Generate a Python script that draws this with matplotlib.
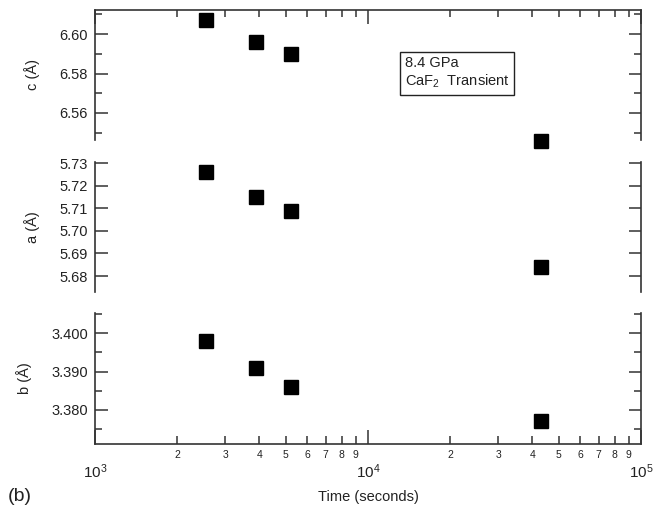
import matplotlib
matplotlib.use("Agg")
import matplotlib.pyplot as plt
from matplotlib.ticker import LogLocator, FixedLocator, MultipleLocator, FormatStrFormatter, FuncFormatter, NullFormatter

plt.rcParams['font.family'] = ['Liberation Sans', 'DejaVu Sans']
plt.rcParams['mathtext.fontset'] = 'custom'
plt.rcParams['mathtext.rm'] = 'Liberation Sans'
plt.rcParams['mathtext.it'] = 'Liberation Sans:italic'

# lattice parameters vs time, 8.4 GPa run
time_s = [2550, 3890, 5220, 43000]
c_vals = [6.607, 6.596, 6.590, 6.546]
a_vals = [5.726, 5.715, 5.709, 5.684]
b_vals = [3.398, 3.391, 3.386, 3.377]

TXT = '#222222'
W, H = 667, 516
fig = plt.figure(figsize=(W / 100, H / 100), dpi=100)

def panel(top, bottom):
    return fig.add_axes([95 / W, (H - bottom) / H, 546 / W, (bottom - top) / H])

ax_c = panel(10, 140)
ax_a = panel(162, 292)
ax_b = panel(313, 444)

for ax, y, lab in [(ax_c, c_vals, 'c (Å)'), (ax_a, a_vals, 'a (Å)'), (ax_b, b_vals, 'b (Å)')]:
    ax.set_xscale('log')
    ax.set_xlim(1e3, 1e5)
    ax.plot(time_s, y, 's', color='black', markersize=10.3, clip_on=False, zorder=5)
    ax.set_ylabel(lab, fontsize=10.5, color=TXT, labelpad=14)
    for s in ax.spines.values():
        s.set_linewidth(1.2)
        s.set_color('#333333')
    ax.tick_params(axis='y', which='major', direction='in', length=9, width=1.1,
                   labelsize=10.5, labelcolor=TXT, right=True, color='#333333', pad=5)
    ax.tick_params(axis='y', which='minor', direction='in', length=5, width=1.1,
                   right=True, color='#333333')

# top panel: c
ax_c.set_ylim(6.5463, 6.6122)
ax_c.yaxis.set_major_locator(FixedLocator([6.56, 6.58, 6.60]))
ax_c.yaxis.set_minor_locator(FixedLocator([6.55, 6.57, 6.59, 6.61]))
ax_c.yaxis.set_major_formatter(FormatStrFormatter('%.2f'))
ax_c.spines['bottom'].set_visible(False)
ax_c.tick_params(axis='x', which='both', direction='in', bottom=False, top=True,
                 labelbottom=False, labeltop=False, width=1.1, color='#333333')
ax_c.tick_params(axis='x', which='major', length=10)
ax_c.tick_params(axis='x', which='minor', length=5)
ax_c.text(0.567, 0.515, '8.4 GPa\nCaF$_2$  Transient', transform=ax_c.transAxes,
          fontsize=10.5, color=TXT, va='center', ha='left', linespacing=1.25,
          bbox=dict(boxstyle='square,pad=0.33', facecolor='white', edgecolor='#222222', linewidth=1))

# middle panel: a
ax_a.set_ylim(5.6729, 5.7306)
ax_a.yaxis.set_major_locator(MultipleLocator(0.01))
ax_a.yaxis.set_minor_locator(FixedLocator([]))
ax_a.yaxis.set_major_formatter(FormatStrFormatter('%.2f'))
ax_a.spines['top'].set_visible(False)
ax_a.spines['bottom'].set_visible(False)
ax_a.tick_params(axis='x', which='both', bottom=False, top=False, labelbottom=False)

# bottom panel: b
ax_b.set_ylim(3.3711, 3.4053)
ax_b.yaxis.set_major_locator(FixedLocator([3.380, 3.390, 3.400]))
ax_b.yaxis.set_minor_locator(FixedLocator([3.375, 3.385, 3.395, 3.405]))
ax_b.yaxis.set_major_formatter(FormatStrFormatter('%.3f'))
ax_b.spines['top'].set_visible(False)
ax_b.tick_params(axis='x', which='both', direction='in', width=1.1, color='#333333', labelcolor=TXT)
ax_b.tick_params(axis='x', which='major', length=10, labelsize=11, pad=13)
ax_b.tick_params(axis='x', which='minor', length=6, labelsize=7.5, pad=4)

for ax in (ax_c, ax_b):
    ax.xaxis.set_major_locator(LogLocator(base=10, numticks=10))
    ax.xaxis.set_minor_locator(LogLocator(base=10, subs=range(2, 10), numticks=20))
ax_b.xaxis.set_minor_formatter(FuncFormatter(lambda v, p: '%d' % round(v / 10 ** int(f'{v:e}'.split('e')[1]))))
ax_c.xaxis.set_minor_formatter(NullFormatter())

ax_b.set_xlabel('Time (seconds)', fontsize=10.5, color=TXT, labelpad=7)

fig.align_ylabels([ax_c, ax_a])
fig.text(8 / W, 0.037, '(b)', fontsize=14, color=TXT, ha='left', va='center')

fig.savefig('out.png', dpi=100)
